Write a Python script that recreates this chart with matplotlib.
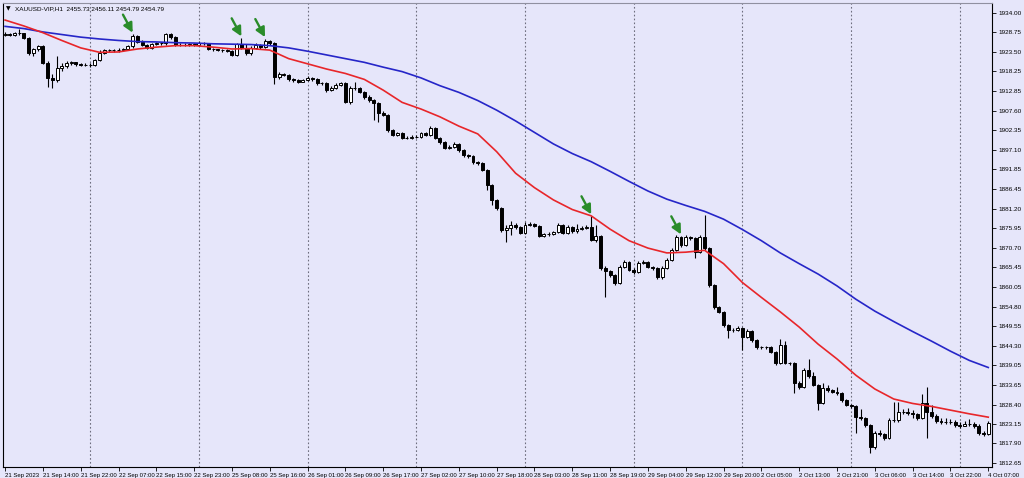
"""XAUUSD H1 candles with two moving averages, MetaTrader style."""
import matplotlib

matplotlib.use("Agg")
import matplotlib.pyplot as plt
import numpy as np

plt.rcParams["font.family"] = ["Liberation Sans", "DejaVu Sans"]

BG = "#e6e6fa"
RED = "#e8262a"
BLUE = "#2626c8"
ARROW = "#2a8c2a"

FIRST_OPEN = 1928.1
CLOSE = [
    1928.3, 1928.2, 1928.6, 1928.5, 1927.3, 1923.2, 1924.2, 1925.1,
    1920.5, 1916.5, 1915.9, 1919.2, 1919.7, 1920.5, 1920.7, 1920.3,
    1920.1, 1920.0, 1920.1, 1921.3, 1923.2, 1923.9, 1924.0, 1923.9,
    1924.0, 1924.3, 1925.0, 1927.9, 1926.3, 1925.4, 1924.6, 1925.6,
    1925.9, 1925.8, 1928.3, 1927.4, 1925.4, 1925.5, 1925.5, 1925.6,
    1925.5, 1926.0, 1925.8, 1924.3, 1924.2, 1924.0, 1924.0, 1923.8,
    1922.8, 1925.6, 1924.7, 1923.2, 1924.6, 1925.4, 1924.8, 1926.5,
    1925.9, 1916.7, 1917.6, 1917.3, 1916.2, 1915.9, 1915.5, 1915.9,
    1916.5, 1916.2, 1915.1, 1915.1, 1913.2, 1913.8, 1914.6, 1915.1,
    1910.0, 1913.8, 1913.8, 1912.7, 1911.3, 1910.5, 1909.7, 1907.0,
    1906.5, 1902.4, 1901.1, 1901.6, 1900.3, 1900.3, 1900.6, 1900.6,
    1901.6, 1901.1, 1903.0, 1900.3, 1899.2, 1897.6, 1897.9, 1898.7,
    1897.1, 1895.7, 1895.4, 1893.8, 1893.5, 1891.7, 1887.6, 1883.6,
    1881.4, 1875.5, 1876.0, 1876.8, 1876.3, 1874.7, 1876.8, 1877.1,
    1876.6, 1873.9, 1874.4, 1874.4, 1874.9, 1876.8, 1874.7, 1876.3,
    1875.2, 1875.8, 1876.0, 1876.3, 1872.8, 1873.9, 1865.2, 1864.4,
    1863.3, 1861.2, 1865.5, 1866.9, 1864.7, 1864.2, 1866.6, 1866.9,
    1865.5, 1865.2, 1862.8, 1865.2, 1867.4, 1870.1, 1873.6, 1871.4,
    1873.6, 1873.3, 1869.5, 1873.6, 1870.6, 1860.6, 1854.7, 1853.4,
    1849.9, 1848.5, 1848.5, 1849.1, 1846.6, 1848.2, 1845.8, 1843.9,
    1843.9, 1843.9, 1842.6, 1839.6, 1844.5, 1839.6, 1839.6, 1834.2,
    1833.1, 1837.7, 1836.1, 1833.7, 1828.8, 1832.9, 1832.3, 1831.8,
    1831.5, 1829.6, 1828.3, 1828.0, 1825.0, 1824.8, 1822.9, 1817.0,
    1820.7, 1820.5, 1819.4, 1824.2, 1824.2, 1826.4, 1826.4, 1826.1,
    1825.9, 1824.8, 1828.8, 1826.4, 1825.3, 1824.0, 1823.7, 1823.7,
    1823.7, 1822.9, 1822.6, 1823.2, 1823.2, 1822.6, 1820.7, 1820.5,
    1823.4,
]
HIGH = [
    1928.9, 1928.6, 1929.0, 1929.6, 1928.7, 1927.5, 1924.7, 1925.5,
    1925.4, 1921.1, 1917.6, 1922.4, 1920.5, 1921.1, 1921.1, 1920.8,
    1920.5, 1920.4, 1920.5, 1921.7, 1924.0, 1924.4, 1924.4, 1924.4,
    1924.6, 1924.7, 1925.4, 1928.3, 1928.2, 1926.7, 1925.6, 1926.0,
    1926.3, 1926.3, 1928.7, 1928.7, 1927.7, 1925.9, 1925.9, 1926.0,
    1925.9, 1926.5, 1926.2, 1925.9, 1924.6, 1924.4, 1924.4, 1924.3,
    1924.0, 1926.0, 1927.3, 1925.6, 1925.1, 1925.8, 1925.6, 1927.1,
    1926.7, 1926.2, 1918.1, 1917.8, 1917.6, 1916.5, 1916.1, 1916.3,
    1916.9, 1916.7, 1916.5, 1915.5, 1915.4, 1914.3, 1915.0, 1915.5,
    1915.4, 1914.2, 1915.4, 1914.0, 1913.0, 1911.9, 1910.8, 1910.0,
    1907.6, 1906.8, 1902.7, 1902.0, 1901.9, 1900.7, 1901.0, 1901.1,
    1902.0, 1901.9, 1903.5, 1903.3, 1900.6, 1899.5, 1898.3, 1899.2,
    1898.9, 1897.3, 1896.0, 1895.7, 1894.1, 1893.8, 1891.9, 1887.9,
    1883.8, 1881.7, 1876.8, 1877.9, 1877.4, 1876.6, 1877.6, 1877.6,
    1877.5, 1876.8, 1874.8, 1874.9, 1875.3, 1877.4, 1877.1, 1876.8,
    1876.6, 1877.1, 1876.6, 1876.8, 1879.3, 1876.8, 1874.1, 1865.8,
    1864.7, 1863.6, 1866.0, 1867.4, 1867.1, 1865.2, 1867.1, 1867.3,
    1867.1, 1865.9, 1865.5, 1865.8, 1867.9, 1870.6, 1874.1, 1873.9,
    1874.1, 1873.9, 1873.6, 1874.1, 1879.5, 1870.9, 1860.9, 1855.0,
    1853.6, 1850.1, 1849.1, 1849.5, 1849.3, 1848.8, 1848.5, 1846.1,
    1844.3, 1844.3, 1844.2, 1842.8, 1846.1, 1845.5, 1840.0, 1839.9,
    1834.8, 1838.3, 1840.7, 1837.2, 1834.0, 1834.2, 1833.7, 1832.6,
    1833.1, 1831.8, 1829.9, 1828.6, 1828.3, 1827.2, 1825.0, 1823.2,
    1821.3, 1821.5, 1820.7, 1824.8, 1829.1, 1829.1, 1827.2, 1827.5,
    1826.9, 1826.1, 1831.2, 1833.1, 1828.3, 1825.9, 1824.8, 1824.8,
    1824.5, 1824.2, 1823.7, 1824.0, 1824.5, 1823.7, 1823.2, 1821.3,
    1824.0,
]
LOW = [
    1927.7, 1927.8, 1927.9, 1928.1, 1926.9, 1922.7, 1922.5, 1923.8,
    1920.3, 1914.0, 1913.8, 1915.4, 1918.4, 1919.2, 1920.0, 1919.8,
    1919.7, 1919.6, 1919.4, 1919.7, 1921.1, 1923.0, 1923.5, 1923.5,
    1923.6, 1923.8, 1924.0, 1924.7, 1925.9, 1925.0, 1924.2, 1924.3,
    1925.4, 1925.4, 1925.4, 1927.0, 1925.1, 1925.1, 1925.1, 1925.2,
    1925.1, 1925.2, 1925.4, 1923.9, 1923.8, 1923.8, 1923.6, 1923.4,
    1922.4, 1922.4, 1924.3, 1922.8, 1922.8, 1924.2, 1924.4, 1924.6,
    1925.5, 1914.9, 1916.3, 1916.9, 1915.8, 1915.5, 1915.1, 1915.3,
    1915.7, 1915.8, 1914.7, 1914.7, 1912.8, 1913.0, 1913.4, 1914.2,
    1909.6, 1909.5, 1913.2, 1912.3, 1910.9, 1910.1, 1905.1, 1904.6,
    1906.1, 1902.0, 1900.7, 1900.7, 1899.9, 1899.9, 1900.0, 1900.2,
    1900.2, 1900.7, 1900.7, 1899.9, 1898.8, 1897.2, 1897.3, 1897.5,
    1896.6, 1895.3, 1895.0, 1893.4, 1893.1, 1891.3, 1886.3, 1882.2,
    1881.0, 1874.9, 1872.2, 1874.1, 1875.8, 1874.3, 1874.3, 1876.6,
    1876.2, 1873.5, 1873.6, 1873.9, 1874.1, 1874.7, 1874.3, 1874.4,
    1874.8, 1874.7, 1875.5, 1875.8, 1872.5, 1872.2, 1864.7, 1857.4,
    1862.8, 1860.6, 1860.8, 1865.2, 1864.3, 1863.7, 1863.9, 1866.3,
    1865.1, 1864.8, 1862.4, 1862.4, 1865.0, 1867.1, 1869.8, 1871.0,
    1871.2, 1872.9, 1867.9, 1869.3, 1870.1, 1860.1, 1854.2, 1853.0,
    1849.3, 1846.4, 1848.1, 1848.2, 1843.1, 1846.4, 1845.4, 1843.5,
    1843.5, 1843.4, 1842.2, 1839.2, 1839.3, 1839.3, 1839.2, 1831.5,
    1832.6, 1832.9, 1835.6, 1833.3, 1826.9, 1828.6, 1831.8, 1831.4,
    1831.1, 1829.2, 1827.9, 1827.5, 1820.7, 1824.2, 1822.4, 1815.3,
    1816.4, 1819.9, 1818.8, 1819.0, 1823.7, 1823.8, 1825.9, 1825.6,
    1824.8, 1824.2, 1824.4, 1819.4, 1824.8, 1823.4, 1823.2, 1823.2,
    1823.2, 1822.4, 1822.1, 1822.5, 1822.6, 1822.1, 1820.2, 1819.8,
    1820.2,
]

# moving averages, read every 4th bar
MA_STEP = 4
MA_FAST = [
    1932.1, 1930.5, 1928.7, 1926.6, 1924.6, 1923.4, 1923.5, 1924.3,
    1924.8, 1925.2, 1925.2, 1924.8, 1924.3, 1924.4, 1924.0, 1921.7,
    1920.3, 1918.9, 1917.7, 1916.1, 1913.2, 1909.9, 1908.1, 1906.0,
    1903.5, 1901.4, 1896.6, 1890.8, 1886.9, 1883.6, 1881.0, 1879.3,
    1875.7, 1872.6, 1870.6, 1869.3, 1869.5, 1870.0, 1866.4, 1861.3,
    1857.3, 1853.4, 1849.3, 1844.7, 1840.7, 1836.3, 1832.6, 1829.9,
    1828.7, 1827.9, 1826.9, 1825.9, 1825.0,
]
MA_SLOW = [
    1930.4, 1929.8, 1928.9, 1928.2, 1927.5, 1927.0, 1926.6, 1926.3,
    1926.2, 1926.0, 1925.9, 1925.7, 1925.6, 1925.5, 1925.2, 1924.6,
    1923.7, 1922.7, 1921.7, 1920.7, 1919.4, 1918.2, 1916.5, 1914.4,
    1912.6, 1910.4, 1907.8, 1904.9, 1901.8, 1898.7, 1896.1, 1893.9,
    1891.3, 1888.6, 1886.0, 1883.8, 1882.1, 1880.5, 1878.4, 1875.6,
    1872.6, 1869.3, 1866.4, 1863.6, 1860.4, 1856.8, 1853.6, 1850.8,
    1848.1, 1845.5, 1842.8, 1840.3, 1838.4,
]

TIME_LABELS = [
    "21 Sep 2023", "21 Sep 14:00", "21 Sep 22:00", "22 Sep 07:00",
    "22 Sep 15:00", "22 Sep 23:00", "25 Sep 08:00", "25 Sep 16:00",
    "26 Sep 01:00", "26 Sep 09:00", "26 Sep 17:00", "27 Sep 02:00",
    "27 Sep 10:00", "27 Sep 18:00", "28 Sep 03:00", "28 Sep 11:00",
    "28 Sep 19:00", "29 Sep 04:00", "29 Sep 12:00", "29 Sep 20:00",
    "2 Oct 05:00", "2 Oct 13:00", "2 Oct 21:00", "3 Oct 06:00",
    "3 Oct 14:00", "3 Oct 22:00", "4 Oct 07:00",
]
LABEL_STEP = 8
DAY_STARTS = [18, 41, 64, 87, 110, 133, 156, 179, 202]
PRICE_LABELS = [
    "1934.00", "1928.75", "1923.50", "1918.25", "1912.85", "1907.60",
    "1902.35", "1897.10", "1891.85", "1886.45", "1881.20", "1875.95",
    "1870.70", "1865.45", "1860.05", "1854.80", "1849.55", "1844.30",
    "1839.05", "1833.65", "1828.40", "1823.15", "1817.90", "1812.65",
]
MARKED_BARS = [27, 50, 55, 124, 143]
TITLE = "XAUUSD-VIP,H1  2455.73 2456.11 2454.79 2454.79"


def main():
    close = np.array(CLOSE)
    high = np.array(HIGH)
    low = np.array(LOW)
    opn = np.r_[FIRST_OPEN, close[:-1]]
    x = np.arange(len(close))

    fig = plt.figure(figsize=(10.24, 4.78), dpi=100, facecolor=BG)
    ax = fig.add_axes([0.003, 0.023, 0.9658, 0.9707], facecolor=BG)

    for d in DAY_STARTS:
        ax.axvline(d, color="#6e6e7e", linestyle=(0, (1.5, 2)), linewidth=0.8, zorder=1)

    ax.vlines(x, low, high, color="black", linewidth=0.8, zorder=2)
    up = close >= opn
    ax.bar(x[up], close[up] - opn[up], bottom=opn[up], width=0.62,
           color="white", edgecolor="black", linewidth=0.7, zorder=3)
    ax.bar(x[~up], close[~up] - opn[~up], bottom=opn[~up], width=0.62,
           color="black", edgecolor="black", linewidth=0.7, zorder=3)

    ma_x = np.arange(len(MA_FAST)) * MA_STEP
    ax.plot(ma_x, MA_SLOW, color=BLUE, linewidth=1.2, zorder=4)
    ax.plot(ma_x, MA_FAST, color=RED, linewidth=1.2, zorder=4)

    for b in MARKED_BARS:
        ax.annotate("", xy=(b, high[b] + 0.4), xytext=(-7, 13), textcoords="offset points",
                    arrowprops=dict(arrowstyle="-|>,head_length=0.55,head_width=0.28",
                                    color=ARROW, linewidth=1.7, shrinkA=0, shrinkB=0),
                    zorder=5)

    ax.set_xlim(-0.42, 208.8)
    ax.set_ylim(1811.56, 1936.7)

    ax.set_xticks(np.arange(len(TIME_LABELS)) * LABEL_STEP)
    ax.set_xticklabels(TIME_LABELS, ha="left", fontsize=4.3)
    ax.yaxis.tick_right()
    ax.set_yticks([float(v) for v in PRICE_LABELS])
    ax.set_yticklabels(PRICE_LABELS, fontsize=4.6)
    ax.tick_params(axis="x", length=3, width=0.6, pad=1.5, colors="black")
    ax.tick_params(axis="y", length=3, width=0.6, pad=1.5, colors="black")
    for s in ax.spines.values():
        s.set_linewidth(0.8)
        s.set_color("black")
    ax.spines["top"].set_color("#9090a0")

    ax.text(0.003, 0.993, "\u25bc", transform=ax.transAxes, fontsize=4.3,
            va="top", ha="left", color="black", family="DejaVu Sans")
    ax.text(0.012, 0.993, TITLE, transform=ax.transAxes, fontsize=4.6,
            va="top", ha="left", color="black")

    fig.savefig("out.png", dpi=100, facecolor=BG)
    plt.close(fig)


if __name__ == "__main__":
    main()
